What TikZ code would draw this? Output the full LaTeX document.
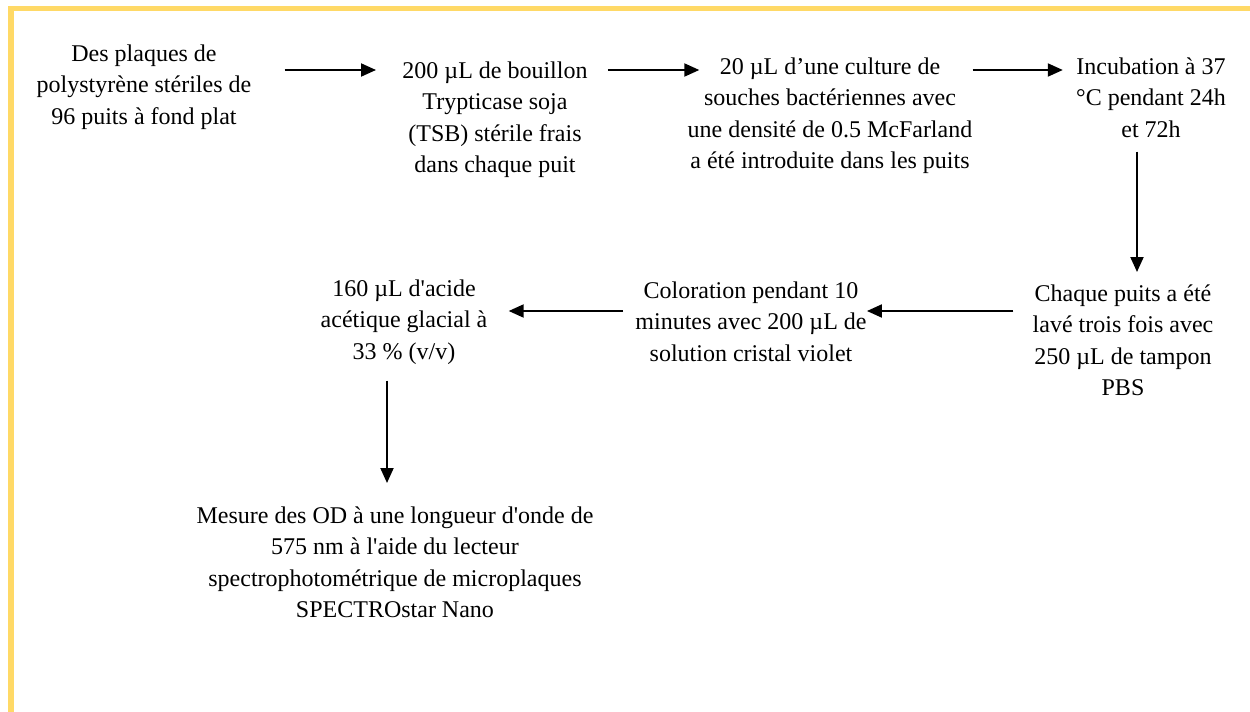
\documentclass[tikz,border=0pt]{standalone}
\usepackage{fontspec}
\setmainfont{Liberation Serif}[Ligatures=TeXOff]
\usepackage{tikz}
\usetikzlibrary{arrows.meta,positioning,calc}
\usepackage{xcolor}
\definecolor{Frame}{HTML}{FFD966}
\definecolor{Ink}{HTML}{000000}
\newcommand{\StepFont}{\fontsize{12pt}{15.75pt}\selectfont}
\newcommand{\StepBox}[4]{%
  \node[anchor=north,align=center,inner sep=0pt,font=\StepFont,text=Ink] (#1) at (#2,#3) {#4};%
}

\begin{document}
\begin{tikzpicture}[x=0.5pt,y=-0.5pt,
  flow/.style={-{Triangle[length=7.5pt,width=6.5pt]},draw=Ink,line width=1pt}]
\useasboundingbox (0,0) rectangle (1250,712);
\draw[Frame,line width=2.5pt] (8,8.5) -- (1250,8.5);
\draw[Frame,line width=3pt] (11,6) -- (11,712);
\coordinate (rowA) at (0,70);
\coordinate (rowB) at (0,311);
\coordinate (colA) at (1137,0);
\coordinate (colB) at (387,0);
\StepBox{plaques}{144}{44}{Des plaques de\\polystyrène stériles de\\96 puits à fond plat}
\StepBox{bouillon}{495}{61}{200 µL de bouillon\\Trypticase soja\\(TSB) stérile frais\\dans chaque puit}
\StepBox{culture}{830}{57}{20 µL d’une culture de\\souches bactériennes avec\\une densité de 0.5 McFarland\\a été introduite dans les puits}
\StepBox{incub}{1151}{57}{Incubation à 37\\°C pendant 24h\\et 72h}
\StepBox{lavage}{1123}{284}{Chaque puits a été\\lavé trois fois avec\\250 µL de tampon\\PBS}
\StepBox{colorat}{751}{281}{Coloration pendant 10\\minutes avec 200 µL de\\solution cristal violet}
\StepBox{acide}{404}{279}{160 µL d'acide\\acétique glacial à\\33 \% (v/v)}
\StepBox{mesure}{395}{506}{Mesure des OD à une longueur d'onde de\\575 nm à l'aide du lecteur\\spectrophotométrique de microplaques\\SPECTROstar Nano}
\draw[flow,shorten <=16.5pt,shorten >=13pt] (plaques.east |- rowA) -- (bouillon.west |- rowA);
\draw[flow,shorten <=10pt,shorten >=-6pt] (bouillon.east |- rowA) -- (culture.west |- rowA);
\draw[flow,shorten <=0pt,shorten >=6.5pt] (culture.east |- rowA) -- (incub.west |- rowA);
\draw[flow,shorten <=7pt,shorten >=6pt] (incub.south -| colA) -- (lavage.north -| colA);
\draw[flow,shorten <=9.5pt,shorten >=0pt] (lavage.west |- rowB) -- (colorat.east |- rowB);
\draw[flow,shorten <=6pt,shorten >=10.5pt] (colorat.west |- rowB) -- (acide.east |- rowB);
\draw[flow,shorten <=8pt,shorten >=11.5pt] (acide.south -| colB) -- (mesure.north -| colB);
\end{tikzpicture}
\end{document}
